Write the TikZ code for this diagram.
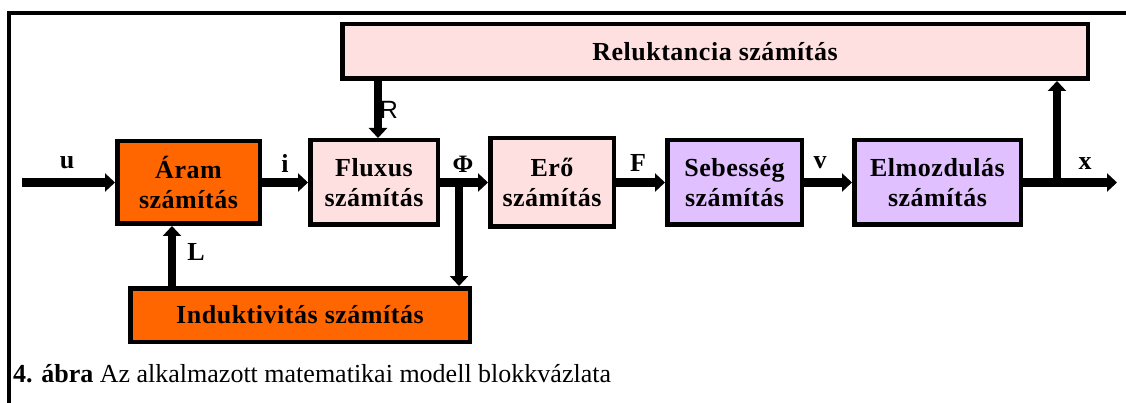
\documentclass[tikz,border=0pt]{standalone}
\usepackage{fontspec}
\setmainfont{Liberation Serif}
\newfontfamily\lsans{Liberation Sans}
\usetikzlibrary{arrows.meta}
\definecolor{orng}{HTML}{FF6600}
\definecolor{pnk}{HTML}{FFE0E0}
\definecolor{lav}{HTML}{E0C0FF}
\newcommand\boxfont{\fontsize{26}{30}\selectfont\bfseries\addfontfeature{LetterSpace=2}}
\newcommand\lblfont{\fontsize{26}{30}\selectfont\bfseries}
\tikzset{
  blk/.style={draw=black, line width=4.5pt, inner sep=0pt, align=center, font=\boxfont},
  sig/.style={line width=8.5pt, -{Triangle[width=18pt,length=10pt]}},
  lbl/.style={font=\lblfont, inner sep=0pt},
}
\begin{document}
\begin{tikzpicture}[x=1pt,y=-1pt]
\useasboundingbox (0,0) rectangle (1126,403);
% frame
\draw[line width=4pt] (9,403) -- (9,13) -- (1126,13);
% blocks
\node[blk, fill=pnk, minimum width=745.5pt, minimum height=54.5pt] (rel) at (715,51.5) {Reluktancia számítás};
\node[blk, fill=orng, minimum width=142.5pt, minimum height=82.5pt] (aram) at (188.5,182.5) {Áram\\számítás};
\node[blk, fill=pnk, minimum width=127.5pt, minimum height=84.5pt] (flux) at (374,182.5) {Fluxus\\számítás};
\node[blk, fill=pnk, minimum width=123.5pt, minimum height=88.5pt] (ero) at (552,182.5) {Erő\\számítás};
\node[blk, fill=lav, minimum width=134.5pt, minimum height=84.5pt] (seb) at (734.5,182.5) {Sebesség\\számítás};
\node[blk, fill=lav, minimum width=166.5pt, minimum height=84.5pt] (elm) at (937.5,182.5) {Elmozdulás\\számítás};
\node[blk, fill=orng, minimum width=339.5pt, minimum height=53.5pt] (ind) at (300,315) {Induktivitás számítás};
% signals
\coordinate (uin) at (22,182.5);
\coordinate (xout) at (1117,182.5);
\coordinate (xb) at (1057,182.5);
\coordinate (pb) at (459,182.5);
\draw[sig] (uin) -- (aram.west);
\draw[sig] (aram.east) -- (flux.west);
\draw[sig] (flux.east) -- (ero.west);
\draw[sig] (ero.east) -- (seb.west);
\draw[sig] (seb.east) -- (elm.west);
\draw[sig] (elm.east) -- (xout);
\draw[sig] (xb) -- (xb |- rel.south);
\draw[sig] ([xshift=4pt]flux.north |- rel.south) -- ([xshift=4pt]flux.north);
\draw[sig] (pb) -- (pb |- ind.north);
\draw[sig] ([xshift=-16.5pt]aram.south |- ind.north) -- ([xshift=-16.5pt]aram.south);
% labels
\node[lbl] (lu) at (67,163) {u};
\node[lbl] (li) at (285,163) {i};
\node[lbl, font=\fontsize{25}{30}\selectfont\bfseries] (lphi) at (463,164) {Φ};
\node[lbl] (lF) at (638,163) {F};
\node[lbl] (lv) at (820,163) {v};
\node[lbl] (lx) at (1085,164) {x};
\node[inner sep=0pt, font=\lsans\fontsize{25}{28}\selectfont] (lR) at (389,110) {R};
\node[lbl] (lL) at (196,252) {L};
% caption
\node[anchor=base west, inner sep=0pt, font=\fontsize{26}{30}\selectfont] (cap) at (13,382) {\textbf{4. ábra} Az alkalmazott matematikai modell blokkvázlata};
\end{tikzpicture}
\end{document}
